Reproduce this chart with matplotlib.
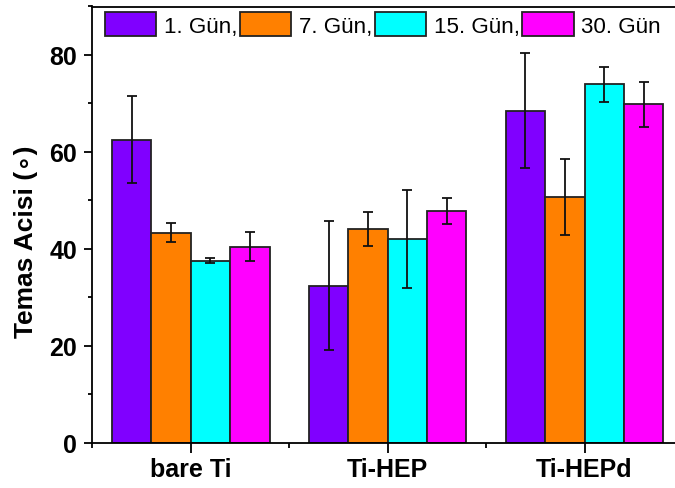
import matplotlib
matplotlib.use("Agg")
import matplotlib.pyplot as plt
import numpy as np
from matplotlib.ticker import MultipleLocator, FixedLocator

categories = ["bare Ti", "Ti-HEP", "Ti-HEPd"]
series_names = ["1. Gün,", "7. Gün,", "15. Gün,", "30. Gün"]
colors = ["#8000FF", "#FF8000", "#00FFFF", "#FF00FF"]

day1 = [62.5, 32.4, 68.5]
day1_err = [9.0, 13.3, 11.8]
day7 = [43.3, 44.1, 50.7]
day7_err = [2.0, 3.45, 7.8]
day15 = [37.5, 42.0, 73.9]
day15_err = [0.5, 10.2, 3.7]
day30 = [40.4, 47.8, 69.8]
day30_err = [3.0, 2.75, 4.6]

values = [day1, day7, day15, day30]
errors = [day1_err, day7_err, day15_err, day30_err]

plt.rcParams['font.family'] = ['Liberation Sans', 'DejaVu Sans']

fig = plt.figure(figsize=(6.75, 4.89), dpi=100)
ax = fig.add_axes([92.3/675, (489-443.5)/489, (683-92.3)/675, (443.5-7.5)/489])

x = np.arange(1, len(categories)+1)
w = 0.2
for i, (v, e, c, n) in enumerate(zip(values, errors, colors, series_names)):
    pos = x + (i - 1.5) * w
    ax.bar(pos, v, width=w, color=c, edgecolor="#222222", linewidth=1.3, label=n, zorder=2)
    ax.errorbar(pos, v, yerr=e, fmt="none", ecolor="#111111", elinewidth=1.3,
                capsize=3.6, capthick=1.3, zorder=3)

ax.set_xlim(0.5, 3.5)
ax.set_ylim(0, 90)
ax.set_xticks(x)
ax.set_xticklabels(categories, fontsize=18, fontweight="bold")
ax.xaxis.set_minor_locator(FixedLocator([0.5, 1.5, 2.5, 3.5]))
ax.yaxis.set_major_locator(FixedLocator([0, 20, 40, 60, 80]))
ax.yaxis.set_minor_locator(MultipleLocator(10))
for lab in ax.get_yticklabels():
    lab.set_fontsize(18)
    lab.set_fontweight("bold")
ax.tick_params(axis="y", which="major", direction="out", length=5.8, width=1.3, pad=5)
ax.tick_params(axis="y", which="minor", direction="out", length=3.2, width=1.3)
ax.tick_params(axis="x", which="major", direction="out", length=7.2, width=1.3, pad=3.5)
ax.tick_params(axis="x", which="minor", direction="out", length=3.6, width=1.3)
for s in ax.spines.values():
    s.set_linewidth(1.3)

ax.set_ylabel("Temas Acisi (\u2218)", fontsize=19, fontweight="bold")
ax.yaxis.set_label_coords((38.5 - 92.3) / 590.7, (443.5 - 241.5) / 436)

leg = ax.legend(loc="upper left", bbox_to_anchor=(105/675, 1-13/489),
                bbox_transform=fig.transFigure, ncol=4, frameon=False,
                fontsize=16.1, handlelength=2.3, handleheight=1.3,
                handletextpad=0.33, columnspacing=0.12, borderpad=0, borderaxespad=0)

fig.savefig("out.png", dpi=100, facecolor="white")
